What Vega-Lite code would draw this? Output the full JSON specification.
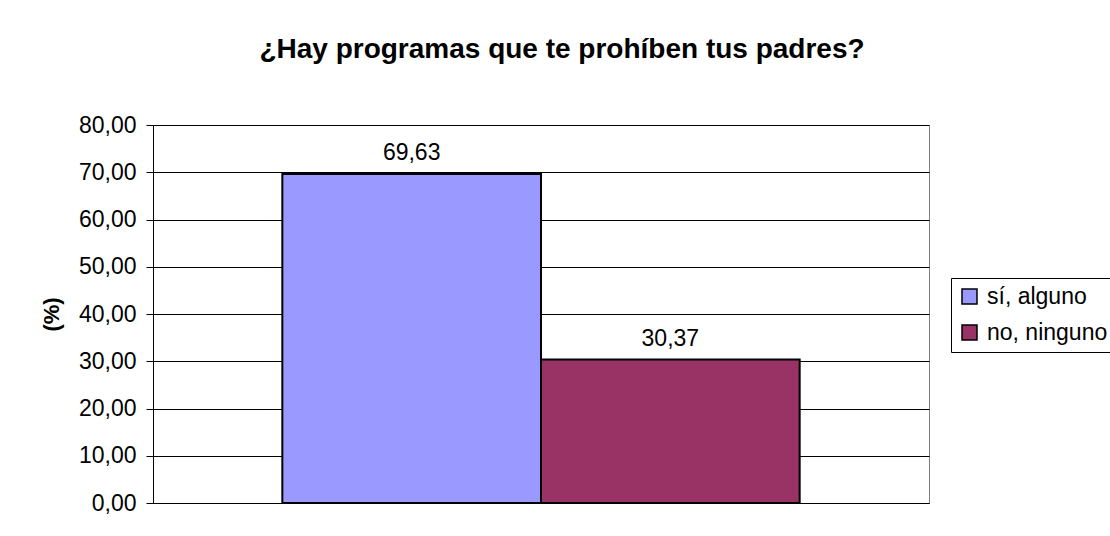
{
  "$schema": "https://vega.github.io/schema/vega-lite/v6.json",
  "width": 776,
  "height": 378,
  "autosize": {"type": "none"},
  "padding": {"left": 153, "top": 125, "right": 181, "bottom": 33},
  "background": "white",
  "title": {
    "text": "¿Hay programas que te prohíben tus padres?",
    "font": "Liberation Sans",
    "fontSize": 28,
    "fontWeight": "bold",
    "color": "#000000",
    "anchor": "middle",
    "baseline": "alphabetic",
    "dx": 21,
    "offset": 28
  },
  "config": {
    "font": "Liberation Sans",
    "locale": {
      "number": {"decimal": ",", "thousands": ".", "grouping": [3], "currency": ["", " €"]}
    },
    "view": {"stroke": "#808080", "strokeWidth": 1}
  },
  "data": {
    "values": [
      {"serie": "sí, alguno", "valor": 69.63},
      {"serie": "no, ninguno", "valor": 30.37}
    ]
  },
  "encoding": {
    "x": {
      "field": "serie",
      "type": "nominal",
      "sort": ["sí, alguno", "no, ninguno"],
      "scale": {"paddingInner": 0, "paddingOuter": 0.5},
      "axis": {"labels": false, "ticks": false, "title": null, "domain": true, "domainColor": "#000000", "grid": false}
    },
    "y": {
      "field": "valor",
      "type": "quantitative",
      "scale": {"domain": [0, 80], "nice": false, "zero": true},
      "axis": {
        "values": [0, 10, 20, 30, 40, 50, 60, 70, 80],
        "format": ".2f",
        "title": "(%)",
        "titleFont": "Liberation Sans",
        "titleFontSize": 22,
        "titleFontWeight": "bold",
        "titleColor": "#000000",
        "titleAngle": -90,
        "titleAlign": "center",
        "titleBaseline": "middle",
        "titleX": -102,
        "titleY": 189,
        "labelFont": "Liberation Sans",
        "labelFontSize": 23,
        "labelColor": "#000000",
        "labelPadding": 10,
        "tickSize": 7,
        "tickColor": "#000000",
        "domainColor": "#000000",
        "grid": true,
        "gridColor": "#000000",
        "gridOpacity": 1,
        "gridWidth": 1
      }
    }
  },
  "layer": [
    {
      "mark": {"type": "bar", "stroke": "#000000", "strokeWidth": 2, "opacity": 1},
      "encoding": {
        "fill": {
          "field": "serie",
          "type": "nominal",
          "sort": ["sí, alguno", "no, ninguno"],
          "scale": {"domain": ["sí, alguno", "no, ninguno"], "range": ["#9999FF", "#993366"]},
          "legend": {
            "title": null,
            "orient": "none",
            "legendX": 798,
            "legendY": 153,
            "strokeColor": "#000000",
            "fillColor": "#FFFFFF",
            "padding": 7,
            "rowPadding": 12,
            "labelFont": "Liberation Sans",
            "labelFontSize": 23,
            "labelColor": "#000000",
            "labelOffset": 6,
            "symbolType": "square",
            "symbolSize": 225,
            "symbolStrokeColor": "#000000",
            "symbolStrokeWidth": 1.5,
            "symbolOpacity": 1
          }
        }
      }
    },
    {
      "mark": {"type": "text", "baseline": "alphabetic", "dy": -14, "fontSize": 23, "color": "#000000", "font": "Liberation Sans"},
      "encoding": {
        "text": {"field": "valor", "type": "quantitative", "format": ".2f"}
      }
    }
  ]
}
